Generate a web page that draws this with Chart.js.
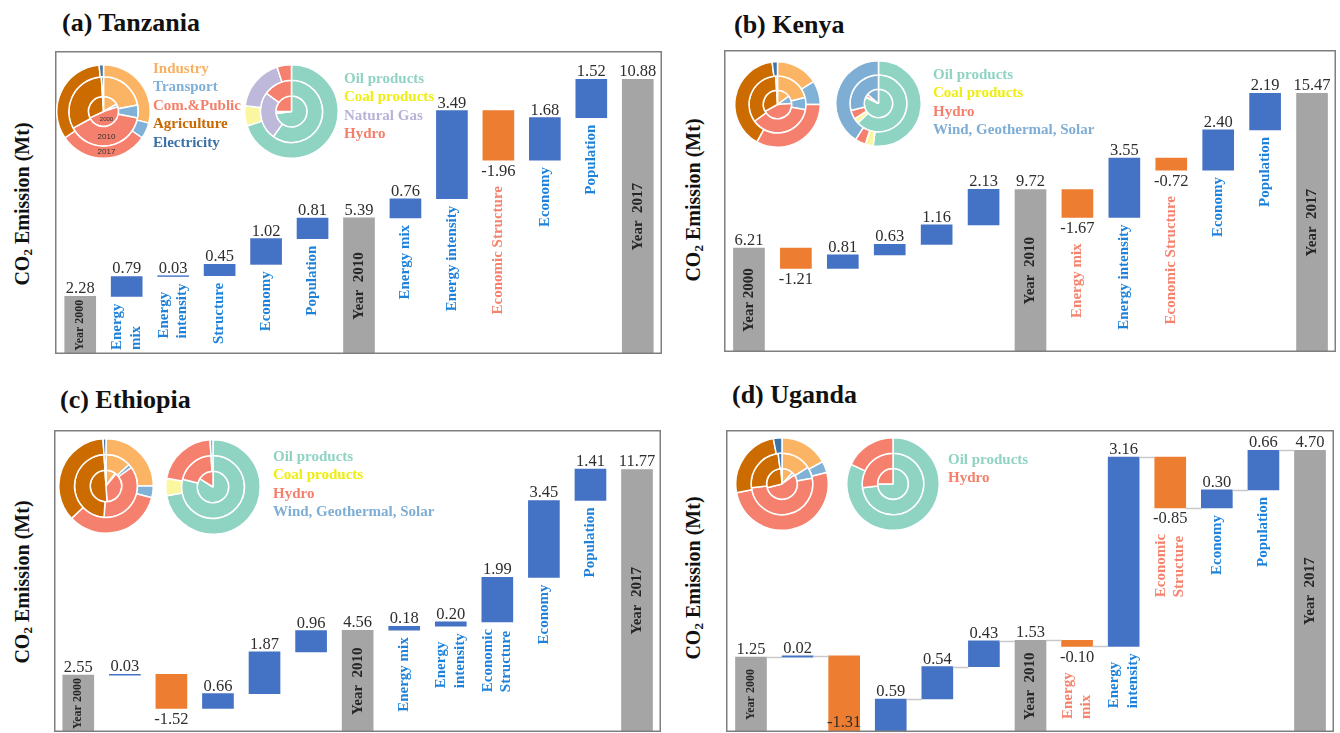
<!DOCTYPE html>
<html><head><meta charset="utf-8">
<script src="https://cdn.jsdelivr.net/npm/chart.js@4.4.1/dist/chart.umd.min.js"></script>
<style>
html,body{margin:0;padding:0;background:#fff;width:1340px;height:733px;overflow:hidden;}
#root{position:relative;width:1340px;height:733px;overflow:hidden;font-family:'Liberation Serif','Times New Roman',serif;}
.abs{position:absolute;}
.title{font-weight:bold;font-size:26px;color:#111;white-space:nowrap;line-height:30px;height:30px;}
.ytitle{font-weight:bold;font-size:20px;color:#111;white-space:nowrap;width:240px;height:26px;line-height:26px;text-align:center;transform:rotate(-90deg);}
.ytitle sub{font-size:13px;vertical-align:-3px;line-height:0;}
.leg{font-weight:bold;font-size:15px;white-space:nowrap;line-height:18px;height:18px;}
canvas{position:absolute;}
</style></head><body><div id="root"></div>
<script>
// ---------------- DATA ----------------
const totalIndices = [0, 6, 12];

const tzCategories = ['Year 2000','Energy\nmix','Energy\nintensity','Structure','Economy','Population','Year  2010','Energy mix','Energy intensity','Economic Structure','Economy','Population','Year  2017'];
const tzValues = [2.28, 0.79, 0.03, 0.45, 1.02, 0.81, 5.39, 0.76, 3.49, -1.96, 1.68, 1.52, 10.88];

const keCategories = ['Year 2000','','','','','','Year  2010','Energy mix','Energy intensity','Economic Structure','Economy','Population','Year  2017'];
const keValues = [6.21, -1.21, 0.81, 0.63, 1.16, 2.13, 9.72, -1.67, 3.55, -0.72, 2.40, 2.19, 15.47];

const etCategories = ['Year 2000','','','','','','Year  2010','Energy mix','Energy\nintensity','Economic\nStructure','Economy','Population','Year  2017'];
const etValues = [2.55, 0.03, -1.52, 0.66, 1.87, 0.96, 4.56, 0.18, 0.20, 1.99, 3.45, 1.41, 11.77];

const ugCategories = ['Year 2000','','','','','','Year  2010','Energy\nmix','Energy\nintensity','Economic\nStructure','Economy','Population','Year  2017'];
const ugValues = [1.25, 0.02, -1.31, 0.59, 0.54, 0.43, 1.53, -0.10, 3.16, -0.85, 0.30, 0.66, 4.70];

// doughnut rings: outer = 2017, middle = 2010, inner = 2000 (shares, %)
const ringYears = ['2017', '2010', '2000'];
const sectorLabels = ['Industry','Transport','Com.&Public','Agriculture','Electricity'];

const tzSector2017 = [29, 5.5, 31, 33, 1.5];
const tzSector2010 = [22, 6, 39, 32, 1];
const tzSector2000 = [17, 3, 48, 31, 1];
const keSector2017 = [16, 9, 33, 40, 2];
const keSector2010 = [21, 7, 37, 34, 1];
const keSector2000 = [15, 9, 43, 32, 1];
const etSector2017 = [25, 4, 34, 36, 1];
const etSector2010 = [13, 2, 36, 48, 1];
const etSector2000 = [10, 1, 38, 50, 1];
const ugSector2017 = [17, 4, 51, 25, 3];
const ugSector2010 = [16, 6, 51, 25, 2];
const ugSector2000 = [12, 3, 56, 28, 1];

const tzFuelLabels = ['Oil products','Coal products','Natural Gas','Hydro'];
const tzFuel2017 = [70, 7, 18, 5];
const tzFuel2010 = [60, 0, 25, 15];
const tzFuel2000 = [73, 2, 0, 25];
const keFuelLabels = ['Oil products','Coal products','Hydro','Wind, Geothermal, Solar'];
const keFuel2017 = [52, 3, 4, 41];
const keFuel2010 = [63, 3, 5, 29];
const keFuel2000 = [82, 1, 3, 14];
const etFuelLabels = ['Oil products','Coal products','Hydro','Wind, Geothermal, Solar'];
const etFuel2017 = [72, 6, 21, 1];
const etFuel2010 = [79, 0, 20, 1];
const etFuel2000 = [84, 0, 16, 0];
const ugFuelLabels = ['Oil products','Hydro'];
const ugFuel2017 = [82, 18];
const ugFuel2010 = [73, 27];
const ugFuel2000 = [75, 25];

// ---------------- STYLES / LAYOUT ----------------
const sliceColor = {'Industry':'#fbb463','Transport':'#80b1d6','Com.&Public':'#f6806e','Agriculture':'#cc6c00','Electricity':'#3f74a6',
  'Oil products':'#8fd3c3','Coal products':'#fbf7a0','Natural Gas':'#beb8da','Hydro':'#f6806e','Wind, Geothermal, Solar':'#7eaed4'};
const legendColor = {'Industry':'#f9b060','Transport':'#7eb0d8','Com.&Public':'#f4806c','Agriculture':'#c96800','Electricity':'#3a70a8',
  'Oil products':'#8fd3c3','Coal products':'#eeee10','Natural Gas':'#b8b2d8','Hydro':'#f4806c','Wind, Geothermal, Solar':'#7eaed6'};
const barColor = {total:'#a5a5a5', pos:'#4472c4', neg:'#ed7d31'};

const panels = [
  {title:'(a) Tanzania', cats:tzCategories, values:tzValues, box:[55,51,607,303], pad:[2,1], yMax:12.0,
   titlePos:[62,23], yTitlePos:[22,204], connectors:false,
   sector:{c:[103,111], r:46.5, rings:[tzSector2017,tzSector2010,tzSector2000], weights:[0.8,1.3,1], years:true},
   fuel:{c:[291.5,111.5], r:46.5, labels:tzFuelLabels, rings:[tzFuel2017,tzFuel2010,tzFuel2000], weights:[1,1,1]},
   sectorLegend:[153,68], fuelLegend:[344,78]},
  {title:'(b) Kenya', cats:keCategories, values:keValues, box:[724,50,612,302], pad:[1.5,0.5], yMax:18.06,
   titlePos:[734,25], yTitlePos:[693,200], connectors:false,
   sector:{c:[777.5,104.5], r:42.5, rings:[keSector2017,keSector2010,keSector2000], weights:[1,1,1]},
   fuel:{c:[878,103.5], r:42.5, labels:keFuelLabels, rings:[keFuel2017,keFuel2010,keFuel2000], weights:[1,1,1]},
   fuelLegend:[933,74]},
  {title:'(c) Ethiopia', cats:etCategories, values:etValues, box:[54,430,607,302], pad:[1,0.7], yMax:13.54,
   titlePos:[60,400], yTitlePos:[22,582], connectors:false,
   sector:{c:[105.5,486], r:47, rings:[etSector2017,etSector2010,etSector2000], weights:[1,1,1]},
   fuel:{c:[213,486.5], r:47, labels:etFuelLabels, rings:[etFuel2017,etFuel2010,etFuel2000], weights:[1,1,1]},
   fuelLegend:[273,456]},
  {title:'(d) Uganda', cats:ugCategories, values:ugValues, box:[726,430,608,302], pad:[1.7,0.7], yMax:5.04,
   titlePos:[732,395], yTitlePos:[693,578], connectors:true,
   sector:{c:[782,484], r:46, rings:[ugSector2017,ugSector2010,ugSector2000], weights:[1,1,1]},
   fuel:{c:[893,483.5], r:46, labels:ugFuelLabels, rings:[ugFuel2017,ugFuel2010,ugFuel2000], weights:[1,1,1]},
   fuelLegend:[948,459]}
];

// ---------------- BUILD ----------------
Chart.defaults.font.family = "'Liberation Serif', 'Times New Roman', serif";
const root = document.getElementById('root');

function addDiv(cls, html, left, top, color){
  const d = document.createElement('div');
  d.className = 'abs ' + cls; d.innerHTML = html;
  d.style.left = left + 'px'; d.style.top = top + 'px';
  if (color) d.style.color = color;
  root.appendChild(d); return d;
}

function buildWaterfall(values){
  let run = 0; const ranges = [], kinds = [];
  values.forEach((v, i) => {
    if (totalIndices.includes(i)) { ranges.push([0, v]); run = v; kinds.push('total'); }
    else { ranges.push([run, run + v]); run += v; kinds.push(v < 0 ? 'neg' : 'pos'); }
  });
  return {ranges, kinds};
}

const waterfallPlugin = {
  id: 'wf',
  afterDatasetsDraw(chart){
    const o = chart.options.plugins.wf;
    const ctx = chart.ctx, ca = chart.chartArea;
    const meta = chart.getDatasetMeta(0);
    ctx.save();
    if (o.connectors){
      ctx.strokeStyle = '#c8c8c8'; ctx.lineWidth = 1.5;
      for (let i = 0; i < meta.data.length - 1; i++){
        const a = meta.data[i].getProps(['x','width']), b = meta.data[i+1].getProps(['x','width']);
        const yv = Math.round(chart.scales.y.getPixelForValue(o.ranges[i][1])) + 0.5;
        ctx.beginPath(); ctx.moveTo(a.x + a.width/2, yv); ctx.lineTo(b.x - b.width/2, yv); ctx.stroke();
      }
    }
    meta.data.forEach((el, i) => {
      const p = el.getProps(['x','y','base','width']);
      const top = Math.min(p.y, p.base), bot = Math.max(p.y, p.base);
      const kind = o.kinds[i], val = o.values[i];
      ctx.fillStyle = '#2e2e2e'; ctx.font = '16.5px "Liberation Serif"'; ctx.textAlign = 'center';
      const txt = val.toFixed(2);
      if (kind === 'neg'){
        ctx.textBaseline = 'top'; let y = bot + 3;
        if (y + 17 > ca.bottom - 1) y = ca.bottom - 18;
        ctx.fillText(txt, p.x, y);
      } else {
        ctx.textBaseline = 'alphabetic'; ctx.fillText(txt, p.x, top - 3);
      }
      const label = o.cats[i];
      if (!label) return;
      const lines = label.split('\n');
      if (kind === 'total'){
        const fs = (bot - top) > 90 ? 15 : 12;
        ctx.font = 'bold ' + fs + 'px "Liberation Serif"'; ctx.fillStyle = '#262626';
        ctx.save(); ctx.translate(p.x, (top + Math.min(bot, ca.bottom)) / 2); ctx.rotate(-Math.PI/2);
        ctx.textAlign = 'center'; ctx.textBaseline = 'middle'; ctx.fillText(label, 0, 0); ctx.restore();
      } else {
        ctx.font = 'bold 15px "Liberation Serif"';
        ctx.fillStyle = kind === 'neg' ? '#f4826c' : '#1f82da';
        const W = Math.max(...lines.map(l => ctx.measureText(l).width));
        const startY = bot + (kind === 'neg' ? 26 : 7);
        ctx.save(); ctx.translate(p.x, startY + W); ctx.rotate(-Math.PI/2);
        ctx.textAlign = 'left'; ctx.textBaseline = 'middle';
        lines.forEach((l, j) => ctx.fillText(l, 0, (j - (lines.length - 1)/2) * 18.5));
        ctx.restore();
      }
    });
    ctx.restore();
  },
  afterDraw(chart){
    const ctx = chart.ctx;
    ctx.save(); ctx.strokeStyle = '#7f7f7f'; ctx.lineWidth = 1.5;
    ctx.strokeRect(0.75, 0.75, chart.width - 1.5, chart.height - 1.5);
    ctx.restore();
  }
};

const ringYearPlugin = {
  id: 'ringYears',
  afterDatasetsDraw(chart){
    const ctx = chart.ctx; ctx.save();
    ctx.fillStyle = '#333'; ctx.textAlign = 'center'; ctx.textBaseline = 'middle';
    chart.data.datasets.forEach((ds, k) => {
      const arc = chart.getDatasetMeta(k).data[0];
      const r = (arc.innerRadius + arc.outerRadius) / 2;
      ctx.font = (k === 2 ? '6px' : '8px') + ' "Liberation Sans"';
      ctx.fillText(ds.label, arc.x + 3, arc.y + r);
    });
    ctx.restore();
  }
};

function makeDoughnut(spec, labels, withYears){
  const size = Math.round(2 * spec.r + 2);
  const cv = document.createElement('canvas');
  cv.width = size; cv.height = size;
  cv.style.left = (spec.c[0] - size/2) + 'px'; cv.style.top = (spec.c[1] - size/2) + 'px';
  root.appendChild(cv);
  new Chart(cv, {
    type: 'doughnut',
    data: { labels: labels, datasets: spec.rings.map((d, k) => ({
      label: ringYears[k], data: d, backgroundColor: labels.map(l => sliceColor[l]),
      borderColor: '#ffffff', borderWidth: 1.5, weight: spec.weights[k] })) },
    options: { responsive: false, animation: false, cutout: 0, events: [],
      layout: {padding: 0},
      plugins: { legend: {display: false}, tooltip: {enabled: false} } },
    plugins: withYears ? [ringYearPlugin] : []
  });
}

function addLegend(pos, labels){
  labels.forEach((l, k) => addDiv('leg', l.replace('&','&amp;'), pos[0], pos[1] - 9 + k * 18.4, legendColor[l]));
}

panels.forEach(pn => {
  addDiv('title', pn.title, pn.titlePos[0], pn.titlePos[1] - 15);
  addDiv('ytitle', 'CO<sub>2</sub> Emission (Mt)', pn.yTitlePos[0] - 120, pn.yTitlePos[1] - 13);

  const wf = buildWaterfall(pn.values);
  const cv = document.createElement('canvas');
  cv.width = pn.box[2]; cv.height = pn.box[3];
  cv.style.left = pn.box[0] + 'px'; cv.style.top = pn.box[1] + 'px';
  root.appendChild(cv);
  new Chart(cv, {
    type: 'bar',
    data: { labels: pn.cats.map(c => c.replace('\n', ' ')),
      datasets: [{ data: wf.ranges, backgroundColor: wf.kinds.map(k => barColor[k]),
        borderWidth: 0, barThickness: 31 }] },
    options: { responsive: false, animation: false, events: [],
      layout: { padding: {left: pn.pad[0], right: pn.pad[1], top: 0, bottom: 0} },
      scales: {
        x: { type: 'category', display: false, offset: true, grid: {display: false} },
        y: { display: false, min: 0, max: pn.yMax, grid: {display: false} }
      },
      plugins: { legend: {display: false}, tooltip: {enabled: false},
        wf: { ranges: wf.ranges, kinds: wf.kinds, values: pn.values, cats: pn.cats, connectors: pn.connectors } } },
    plugins: [waterfallPlugin]
  });

  makeDoughnut(pn.sector, sectorLabels, !!pn.sector.years);
  makeDoughnut(pn.fuel, pn.fuel.labels, false);
  if (pn.sectorLegend) addLegend(pn.sectorLegend, sectorLabels);
  addLegend(pn.fuelLegend, pn.fuel.labels);
});
</script></body></html>
